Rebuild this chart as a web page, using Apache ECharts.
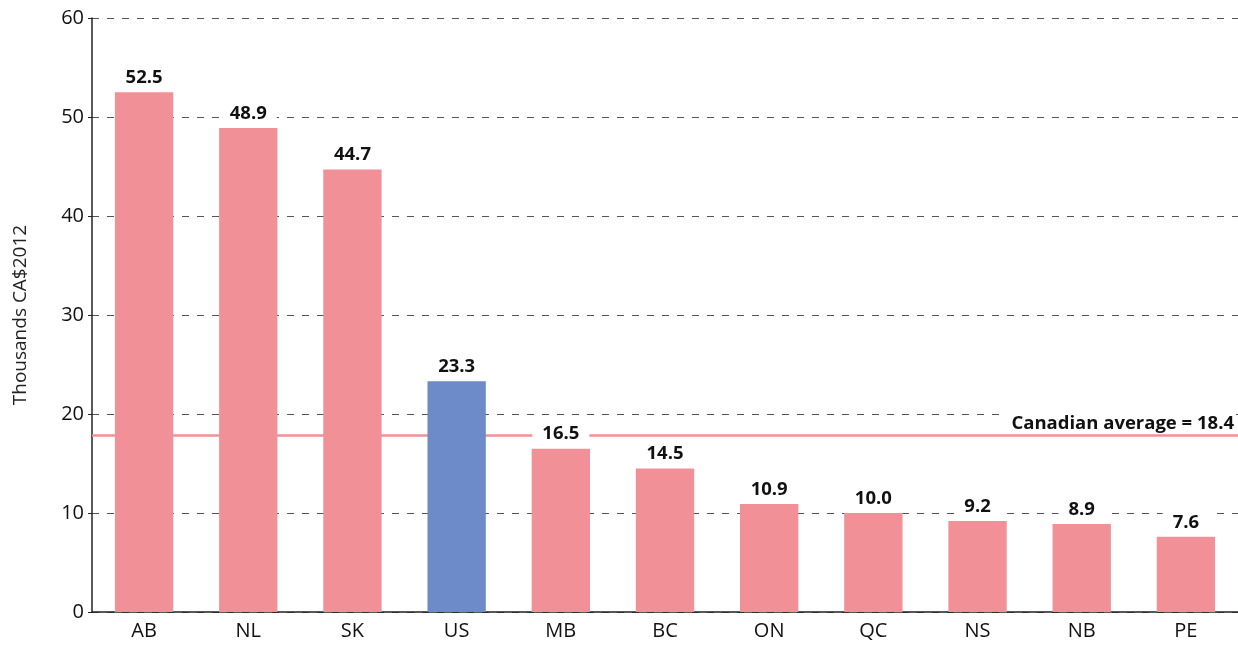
<!DOCTYPE html>
<html>
<head>
<meta charset="UTF-8">
<script src="https://cdn.jsdelivr.net/npm/echarts@6/dist/echarts.min.js"></script>
</head>
<body style="margin:0;background:#fff;">
<div id="main" style="width:1238px;height:648px;"></div>
<script>
var regions = ['AB', 'NL', 'SK', 'US', 'MB', 'BC', 'ON', 'QC', 'NS', 'NB', 'PE'];
var values = [52.5, 48.9, 44.7, 23.3, 16.5, 14.5, 10.9, 10.0, 9.2, 8.9, 7.6];
var avgLine = 17.9;
var avgText = 'Canadian average = 18.4';

var pink = '#f29097', blue = '#6c8bc8';
var font = '"Open Sans", sans-serif';

var chart = echarts.init(document.getElementById('main'));
chart.setOption({
	animation: false,
	grid: { left: 92, right: 0, top: 18, bottom: 36 },
	xAxis: {
		type: 'category',
		data: regions,
		axisTick: { show: false },
		axisLine: { lineStyle: { color: '#222', width: 1.5 } },
		axisLabel: { color: '#111', fontSize: 20, fontFamily: font, margin: 9 }
	},
	yAxis: {
		type: 'value',
		min: 0, max: 60, interval: 10,
		name: 'Thousands CA$2012',
		nameLocation: 'middle',
		nameGap: 62,
		nameTextStyle: { color: '#222', fontSize: 19, fontFamily: font },
		axisLine: { show: true, lineStyle: { color: '#222', width: 1.5 } },
		axisTick: { show: true, length: 4, lineStyle: { color: '#222' } },
		axisLabel: { color: '#111', fontSize: 20, fontFamily: font, margin: 8 },
		splitLine: { lineStyle: { color: '#555', type: [7, 8], width: 1 } }
	},
	series: [{
		type: 'bar',
		barWidth: '56%',
		data: values.map(function (v, i) {
			return { value: v, itemStyle: { color: regions[i] === 'US' ? blue : pink } };
		}),
		label: {
			show: true,
			position: 'top',
			distance: 4,
			formatter: function (p) { return p.value.toFixed(1); },
			color: '#111',
			fontSize: 18.5,
			fontWeight: 'bold',
			fontFamily: font,
			backgroundColor: '#fff',
			padding: [1, 10]
		},
		markLine: {
			silent: true,
			symbol: 'none',
			z: 1,
			lineStyle: { color: pink, width: 2.5, type: 'solid' },
			label: {
				position: 'insideEndTop',
				formatter: avgText,
				color: '#111',
				fontSize: 18.5,
				fontWeight: 'bold',
				fontFamily: font,
				backgroundColor: '#fff',
				padding: [1, 2, 0, 6],
				distance: 2
			},
			data: [{ yAxis: avgLine }]
		}
	}]
});
</script>
</body>
</html>
